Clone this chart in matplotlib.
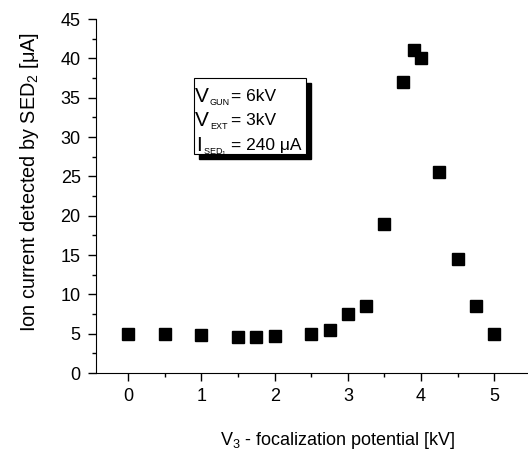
import matplotlib.pyplot as plt
from matplotlib.patches import Rectangle

plt.rcParams['font.family'] = ['Liberation Sans', 'DejaVu Sans']
plt.rcParams['mathtext.fontset'] = 'custom'
plt.rcParams['mathtext.rm'] = 'Liberation Sans'
plt.rcParams['mathtext.it'] = 'Liberation Sans'

# focalization potential V3 [kV]
v3 = [0, 0.5, 1.0, 1.5, 1.75, 2.0, 2.5, 2.75, 3.0, 3.25, 3.5, 3.75, 3.9, 4.0, 4.25, 4.5, 4.75, 5.0]
# ion current on SED2 [uA]
current = [5.0, 4.9, 4.8, 4.6, 4.6, 4.7, 4.9, 5.5, 7.5, 8.5, 19.0, 37.0, 41.0, 40.0, 25.5, 14.5, 8.5, 5.0]

# text box lines: (main letter, subscript, rest)
box_lines = [('V', 'GUN', '= 6kV'),
             ('V', 'EXT', '= 3kV'),
             ('I', 'SED$_1$', '= 240 \u03bcA')]

W, H = 528, 453
fig = plt.figure(figsize=(W / 100, H / 100), dpi=100)
ax = fig.add_axes([96 / W, 1 - 373 / H, 1 - 96 / W, (373 - 19) / H])

ax.plot(v3, current, linestyle='none', marker='s', markersize=8, color='black')

ax.set_xlim(-0.44, 5.46)
ax.set_ylim(0, 45)
ax.set_xticks([0, 1, 2, 3, 4, 5])
ax.set_xticks([0.5, 1.5, 2.5, 3.5, 4.5], minor=True)
ax.set_yticks(range(0, 50, 5))
ax.set_yticks([2.5 + 5 * i for i in range(9)], minor=True)
for s in ['top', 'right']:
    ax.spines[s].set_visible(False)
ax.tick_params(which='major', direction='out', length=6, width=1, labelsize=13, pad=5)
ax.tick_params(which='minor', direction='out', length=3, width=1)

ax.set_xlabel('V$_3$ - focalization potential [kV]', fontsize=13)
ax.xaxis.set_label_coords(0.56, -0.16)
ax.set_ylabel('Ion current detected by SED$_2$ [\u03bcA]', fontsize=14.3)
ax.yaxis.set_label_coords(-0.128, 0.54)


def px(x, y):
    # image pixel (from top-left) -> figure fraction
    return x / W, 1 - y / H


# shadow + box
bx0, by0, bx1, by1 = 194, 78, 306, 154
sx, sy = px(bx0 + 5, by1 + 5)
fig.add_artist(Rectangle((sx, sy), (bx1 - bx0) / W, (by1 - by0) / H,
                         transform=fig.transFigure, facecolor='black', edgecolor='black'))
x0, y0 = px(bx0, by1)
fig.add_artist(Rectangle((x0, y0), (bx1 - bx0) / W, (by1 - by0) / H,
                         transform=fig.transFigure, facecolor='white',
                         edgecolor='black', linewidth=0.8))

baselines = [102, 126, 151]
for (main, sub, rest), yb in zip(box_lines, baselines):
    is_v = main == 'V'
    fig.text(*px(195 if is_v else 196, yb), main, fontsize=15, va='baseline', ha='left')
    fig.text(*px(210 if is_v else 203, yb + 3), sub, fontsize=6.5, va='baseline', ha='left')
    fig.text(*px(231, yb - 1), rest, fontsize=12.5, va='baseline', ha='left')

fig.savefig('out.png', dpi=100, facecolor='white')
